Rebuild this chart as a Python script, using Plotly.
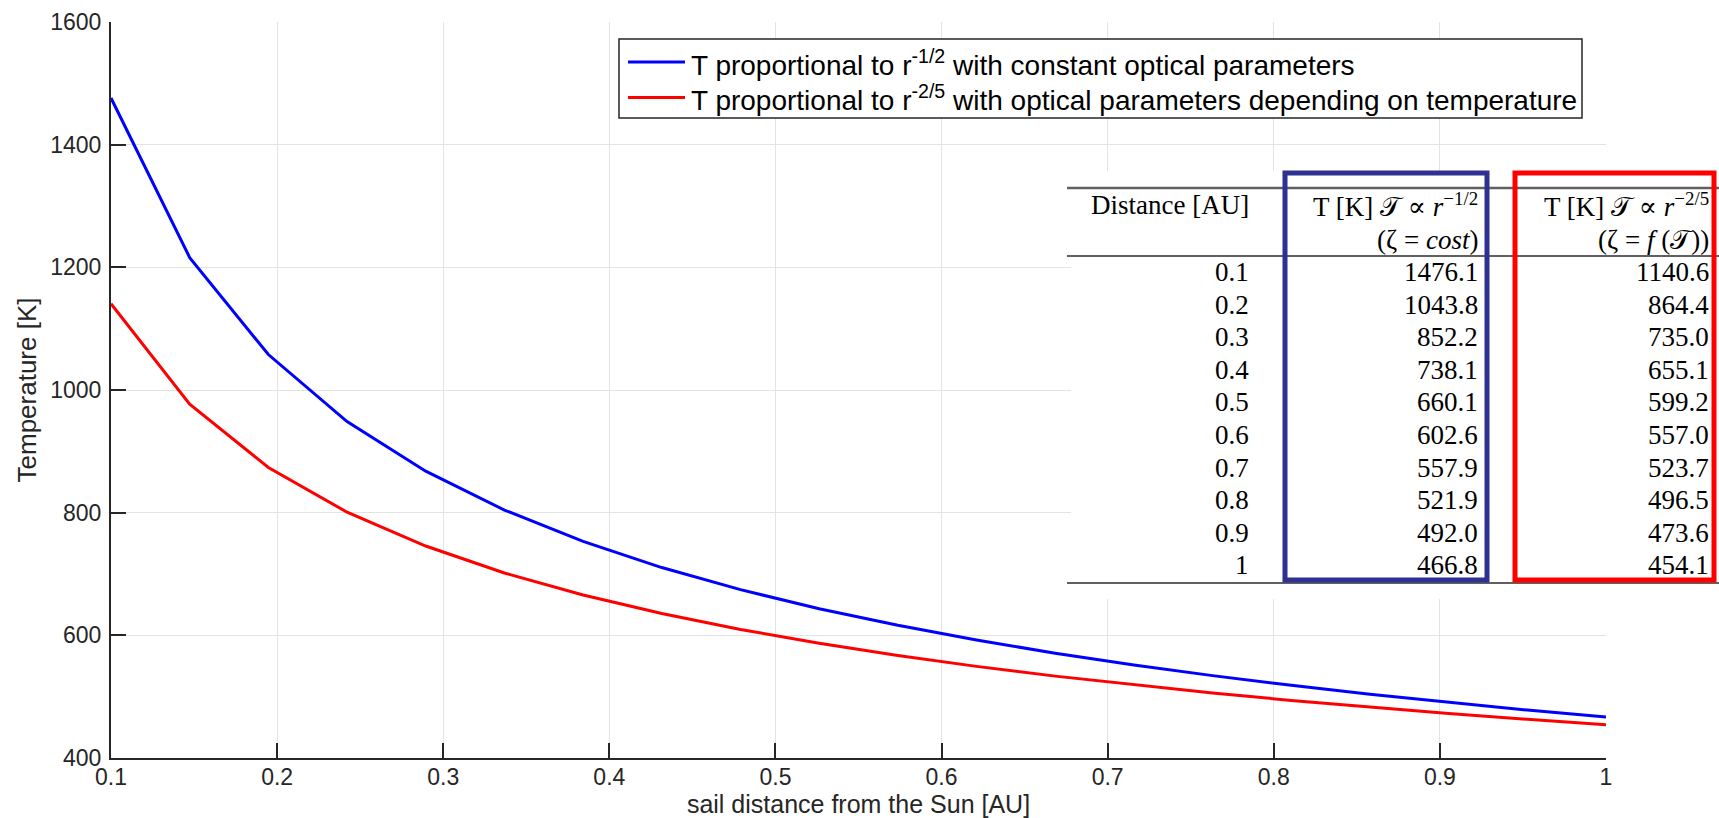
import plotly.graph_objects as go

# ---------------- data ----------------
distance_au = [0.1, 0.14737, 0.19474, 0.24211, 0.28947, 0.33684, 0.38421, 0.43158,
               0.47895, 0.52632, 0.57368, 0.62105, 0.66842, 0.71579, 0.76316,
               0.81053, 0.85789, 0.90526, 0.95263, 1.0]
temp_const_optics = [1476.1, 1215.9, 1057.8, 948.6, 867.6, 804.3, 753.1, 710.5,
                     674.5, 643.4, 616.3, 592.3, 570.9, 551.7, 534.3,
                     518.5, 504.0, 490.6, 478.2, 466.8]
temp_var_optics = [1140.6, 976.7, 873.7, 800.8, 745.6, 701.7, 665.7, 635.5,
                   609.6, 587.0, 567.1, 549.4, 533.5, 519.1, 505.9,
                   493.9, 482.8, 472.5, 463.0, 454.1]

series_names = ["T proportional to r<sup>-1/2</sup> with constant optical parameters",
                "T proportional to r<sup>-2/5</sup> with optical parameters depending on temperature"]
series_colors = ["#0000FF", "#FF0000"]

table_distance = ["0.1", "0.2", "0.3", "0.4", "0.5", "0.6", "0.7", "0.8", "0.9", "1"]
table_const = ["1476.1", "1043.8", "852.2", "738.1", "660.1", "602.6", "557.9", "521.9", "492.0", "466.8"]
table_var = ["1140.6", "864.4", "735.0", "655.1", "599.2", "557.0", "523.7", "496.5", "473.6", "454.1"]
table_head1 = ["Distance [AU]", "T [K] 𝒯 ∝ <i>r</i><sup>−1/2</sup>", "T [K] 𝒯 ∝ <i>r</i><sup>−2/5</sup>"]
table_head2 = ["", "(ζ = <i>cost</i>)", "(ζ = <i>f</i> (𝒯))"]

x_ticks = [0.1, 0.2, 0.3, 0.4, 0.5, 0.6, 0.7, 0.8, 0.9, 1.0]
x_tick_labels = ["0.1", "0.2", "0.3", "0.4", "0.5", "0.6", "0.7", "0.8", "0.9", "1"]
y_ticks = [400, 600, 800, 1000, 1200, 1400, 1600]
y_tick_labels = ["400", "600", "800", "1000", "1200", "1400", "1600"]

# ---------------- geometry helpers (pixel -> paper) ----------------
W, H = 1719, 818
L, R, T, B = 111, 1606, 22, 758


def px(x):
    return (x - L) / (R - L)


def py(y):
    return 1 - (y - T) / (B - T)


AX = "#262626"
SANS = "Liberation Sans, Arial, Helvetica, sans-serif"
SERIF = "Liberation Serif, DejaVu Serif, serif"
TFS = 27

fig = go.Figure()
for ys, name, col in zip([temp_const_optics, temp_var_optics], series_names, series_colors):
    fig.add_trace(go.Scatter(x=distance_au, y=ys, mode="lines", name=name,
                             line=dict(color=col, width=3), showlegend=False))

shapes = []
annotations = []

# ---------- legend (drawn manually to match sample length) ----------
shapes.append(dict(type="rect", xref="paper", yref="paper",
                   x0=px(619), x1=px(1582), y0=py(118), y1=py(39),
                   line=dict(color=AX, width=1.5), fillcolor="white", layer="above"))
for i, (name, col) in enumerate(zip(series_names, series_colors)):
    yc = 62 + 35.5 * i
    shapes.append(dict(type="line", xref="paper", yref="paper",
                       x0=px(628), x1=px(685), y0=py(yc), y1=py(yc),
                       line=dict(color=col, width=3), layer="above"))
    annotations.append(dict(text=name, xref="paper", yref="paper",
                            x=px(689), y=py(yc + 1), xanchor="left", yanchor="middle",
                            showarrow=False, font=dict(family=SANS, size=28, color="#000")))

# ---------- table inset ----------
shapes.append(dict(type="rect", xref="paper", yref="paper",
                   x0=px(1071), x1=px(1722), y0=py(599), y1=py(171),
                   line=dict(width=0), fillcolor="white", layer="above"))
for yy, wdt in [(188, 2.5), (256, 2), (583, 2)]:
    shapes.append(dict(type="line", xref="paper", yref="paper",
                       x0=px(1067), x1=px(1722), y0=py(yy), y1=py(yy),
                       line=dict(color="#606060", width=wdt), layer="above"))

col_right = [1251, 1480, 1711]
for c in range(3):
    annotations.append(dict(text=table_head1[c], xref="paper", yref="paper",
                            x=px(col_right[c]), y=py(205), xanchor="right", yanchor="middle",
                            showarrow=False, font=dict(family=SERIF, size=TFS, color="#000")))
    if table_head2[c]:
        annotations.append(dict(text=table_head2[c], xref="paper", yref="paper",
                                x=px(col_right[c]), y=py(240), xanchor="right", yanchor="middle",
                                showarrow=False, font=dict(family=SERIF, size=TFS, color="#000")))
for r_i, (d, tc, tv) in enumerate(zip(table_distance, table_const, table_var)):
    yc = 272 + 32.6 * r_i
    for c, txt in enumerate([d, tc, tv]):
        annotations.append(dict(text=txt, xref="paper", yref="paper",
                                x=px(col_right[c]), y=py(yc), xanchor="right", yanchor="middle",
                                showarrow=False, font=dict(family=SERIF, size=TFS, color="#000")))

# highlight boxes
shapes.append(dict(type="rect", xref="paper", yref="paper",
                   x0=px(1285), x1=px(1487), y0=py(580), y1=py(173),
                   line=dict(color="#2E3192", width=5), fillcolor="rgba(0,0,0,0)", layer="above"))
shapes.append(dict(type="rect", xref="paper", yref="paper",
                   x0=px(1515), x1=px(1714), y0=py(580), y1=py(173),
                   line=dict(color="#FF0000", width=5), fillcolor="rgba(0,0,0,0)", layer="above"))

fig.update_layout(
    width=W, height=H,
    margin=dict(l=L, r=W - R, t=T, b=H - B, autoexpand=False),
    paper_bgcolor="white", plot_bgcolor="white",
    shapes=shapes, annotations=annotations,
    font=dict(family=SANS, color=AX),
)
fig.update_xaxes(
    range=[0.1, 1.0], tickvals=x_ticks, ticktext=x_tick_labels,
    showgrid=True, gridcolor="#E3E3E3", gridwidth=1.2,
    showline=True, linecolor=AX, linewidth=2, mirror=False,
    ticks="inside", ticklen=15, tickwidth=2, tickcolor=AX,
    tickfont=dict(family=SANS, size=23, color=AX), ticklabelstandoff=-3,
    zeroline=False, automargin=False,
    title=dict(text="sail distance from the Sun [AU]", font=dict(family=SANS, size=25, color=AX), standoff=7),
)
fig.update_yaxes(
    range=[400, 1600], tickvals=y_ticks, ticktext=y_tick_labels,
    showgrid=True, gridcolor="#E3E3E3", gridwidth=1.2,
    showline=True, linecolor=AX, linewidth=2, mirror=False,
    ticks="inside", ticklen=15, tickwidth=2, tickcolor=AX,
    tickfont=dict(family=SANS, size=23, color=AX), ticklabelstandoff=3,
    zeroline=False, automargin=False,
    title=dict(text="Temperature [K]", font=dict(family=SANS, size=26, color=AX), standoff=6),
)

fig.write_html("out.html", config={"displayModeBar": False},
               post_script="document.body.style.margin='0';document.body.style.overflow='hidden';")
